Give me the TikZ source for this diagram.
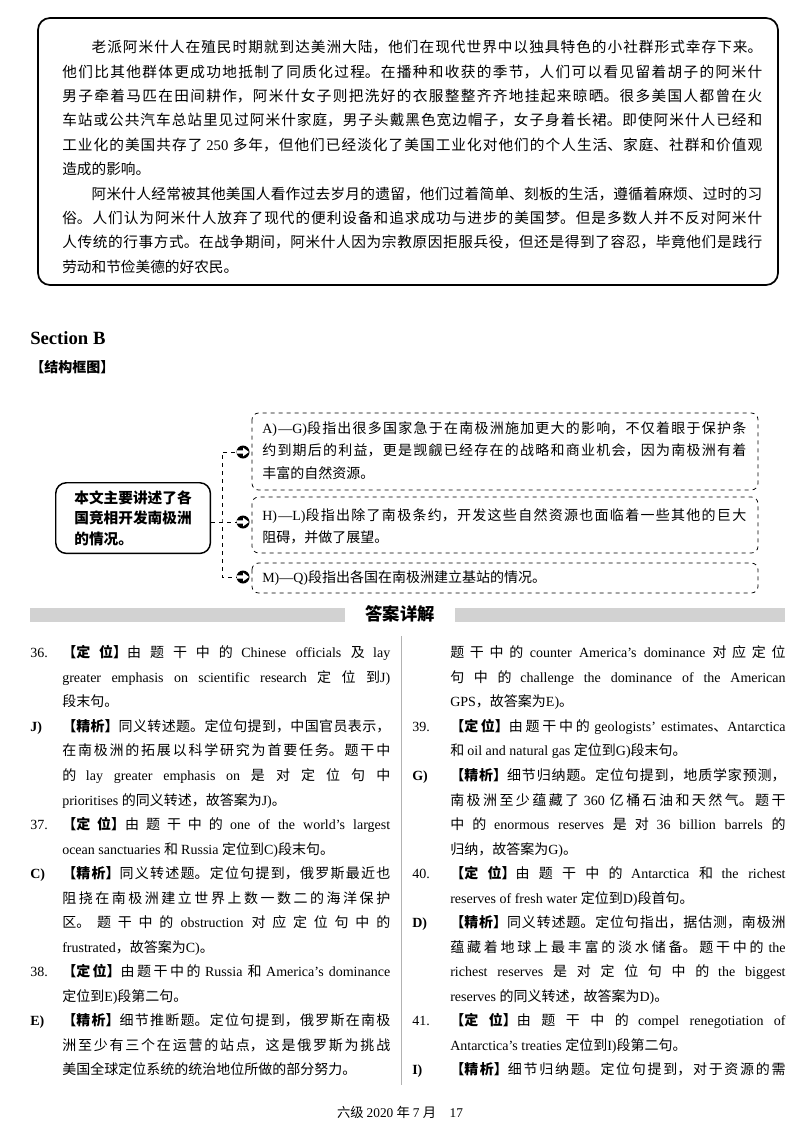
\documentclass[tikz,border=0pt]{standalone}
\usepackage{fontspec}
\setmainfont{Liberation Serif}
\newfontfamily\cjkf{Noto Sans CJK SC}
\newcommand\latf{\rmfamily}
\XeTeXlinebreaklocale "zh"
\XeTeXlinebreakskip=0pt plus 2pt
\newXeTeXintercharclass\cjkclass
\newcount\cc
\cc="4E00 \loop \XeTeXcharclass\cc=\cjkclass \advance\cc 1 \ifnum\cc<"A000 \repeat
\cc="3000 \loop \XeTeXcharclass\cc=\cjkclass \advance\cc 1 \ifnum\cc<"3040 \repeat
\cc="FF00 \loop \XeTeXcharclass\cc=\cjkclass \advance\cc 1 \ifnum\cc<"FFF0 \repeat
\XeTeXinterchartoks 0 \cjkclass = {\cjkf}
\XeTeXinterchartoks 4095 \cjkclass = {\cjkf}
\XeTeXinterchartoks \cjkclass 0 = {\latf}
\XeTeXinterchartoks 4095 0 = {\latf}
\XeTeXinterchartokenstate=1
\tikzset{
 body/.style={anchor=north west,inner sep=0pt,align=justify,font={\fontsize{10.5}{18.4}\selectfont}},
 dbody/.style={anchor=north west,inner sep=0pt,align=justify,font={\fontsize{10.5}{17}\selectfont}},
 dbox/.style={draw,dashed,rounded corners=5pt,line width=0.6pt},
 conn/.style={dashed,line width=0.6pt},
}
\newcommand\dw{\textbf}
\newcommand\lb{\linebreak}
\newcommand\itm[2]{\par\hangindent=#1\hangafter=1\noindent\makebox[#1][l]{#2}\ignorespaces}
\begin{document}
\begin{tikzpicture}[x=0.75pt,y=-0.75pt]
\useasboundingbox (0,0) rectangle (800,1132);
% top box
\draw[line width=1.3pt,rounded corners=9pt] (38,18) rectangle (778,285);
\node[body,text width=525pt,font={\fontsize{11}{18.3}\selectfont}] (p1) at (62,40) {\emergencystretch=2em\parindent=2em\indent 老派阿米什人在殖民时期就到达美洲大陆，他们在现代世界中以独具特色的小社群形式幸存下来。\lb 他们比其他群体更成功地抵制了同质化过程。在播种和收获的季节，人们可以看见留着胡子的阿米什\lb 男子牵着马匹在田间耕作，阿米什女子则把洗好的衣服整整齐齐地挂起来晾晒。很多美国人都曾在火\lb 车站或公共汽车总站里见过阿米什家庭，男子头戴黑色宽边帽子，女子身着长裙。即使阿米什人已经和\lb 工业化的美国共存了 250 多年，但他们已经淡化了美国工业化对他们的个人生活、家庭、社群和价值观\lb 造成的影响。\par
\indent 阿米什人经常被其他美国人看作过去岁月的遗留，他们过着简单、刻板的生活，遵循着麻烦、过时的习\lb 俗。人们认为阿米什人放弃了现代的便利设备和追求成功与进步的美国梦。但是多数人并不反对阿米什\lb 人传统的行事方式。在战争期间，阿米什人因为宗教原因拒服兵役，但还是得到了容忍，毕竟他们是践行\lb 劳动和节俭美德的好农民。};
\node[anchor=west,inner sep=0pt,font=\fontsize{14}{16}\selectfont\bfseries] (sb) at (30,338) {Section B};
\node[anchor=west,inner sep=0pt,font=\fontsize{10.5}{12}\selectfont\bfseries] (jg) at (30,367) {【结构框图】};
% diagram
\node[draw,line width=1.1pt,rounded corners=8pt,minimum width=116pt,minimum height=53pt,anchor=north west,align=left,font=\fontsize{11}{15.5}\selectfont\bfseries,inner sep=0pt] (main) at (55,482) {本文主要讲述了各\\国竞相开发南极洲\\的情况。};
\draw[dbox] (252,413) rectangle (758,490);
\draw[dbox] (252,497) rectangle (758,553);
\draw[dbox] (252,563) rectangle (758,593);
\node[dbody,text width=363pt] (ta) at (262,421) {A)—G)段指出很多国家急于在南极洲施加更大的影响，不仅着眼于保护条\lb 约到期后的利益，更是觊觎已经存在的战略和商业机会，因为南极洲有着\lb 丰富的自然资源。};
\node[dbody,text width=363pt] (th) at (262,508) {H)—L)段指出除了南极条约，开发这些自然资源也面临着一些其他的巨大\lb 阻碍，并做了展望。};
\node[dbody,anchor=west] (tm) at (262,578) {M)—Q)段指出各国在南极洲建立基站的情况。};
\coordinate (ca) at (243,452);
\coordinate (ch) at (243,522);
\coordinate (cm) at (243,577);
\coordinate (jn) at (222,522);
\draw[conn] (main.east|-jn) -- (ch);
\draw[conn] (ca) -| (jn) |- (cm);
\foreach \c in {ca,ch,cm}{
 \fill (\c) circle (6.5);
 \fill[white] ([xshift=-4.5pt,yshift=1.3pt]\c) -- ([xshift=0pt,yshift=1.3pt]\c) -- ([xshift=0pt,yshift=3.3pt]\c) -- ([xshift=4.5pt,yshift=0pt]\c) -- ([xshift=0pt,yshift=-3.3pt]\c) -- ([xshift=0pt,yshift=-1.3pt]\c) -- ([xshift=-4.5pt,yshift=-1.3pt]\c) -- cycle;
}
% answer header
\fill[gray!35] (30,608) rectangle (345,622);
\fill[gray!35] (455,608) rectangle (785,622);
\node[inner sep=0pt,font=\fontsize{13}{15}\selectfont\bfseries] (hd) at (400,614) {答案详解};
\draw[gray!60,line width=0.5pt] (401,636) -- (401,1085);
% left column
\node[body,text width=270pt] (left) at (30,633) {\emergencystretch=2em
\itm{24pt}{36.}\dw{【定位】}由题干中的 Chinese officials 及 lay\lb greater emphasis on scientific research 定位到J)\lb 段末句。
\itm{24pt}{\dw{J)}}\dw{【精析】}同义转述题。定位句提到，中国官员表示，\lb 在南极洲的拓展以科学研究为首要任务。题干中\lb 的 lay greater emphasis on 是对定位句中\lb prioritises 的同义转述，故答案为J)。
\itm{24pt}{37.}\dw{【定位】}由题干中的 one of the world’s largest\lb ocean sanctuaries 和 Russia 定位到C)段末句。
\itm{24pt}{\dw{C)}}\dw{【精析】}同义转述题。定位句提到，俄罗斯最近也\lb 阻挠在南极洲建立世界上数一数二的海洋保护\lb 区。题干中的 obstruction 对应定位句中的\lb frustrated，故答案为C)。
\itm{24pt}{38.}\dw{【定位】}由题干中的 Russia 和 America’s dominance\lb 定位到E)段第二句。
\itm{24pt}{\dw{E)}}\dw{【精析】}细节推断题。定位句提到，俄罗斯在南极\lb 洲至少有三个在运营的站点，这是俄罗斯为挑战\lb 美国全球定位系统的统治地位所做的部分努力。\par};
% right column
\node[body,text width=280pt] (right) at (412,633) {\emergencystretch=2em
\par\hangindent=28.5pt\hangafter=0\noindent 题干中的 counter America’s dominance 对应定位\lb 句中的 challenge the dominance of the American\lb GPS，故答案为E)。
\itm{28.5pt}{39.}\dw{【定位】}由题干中的 geologists’ estimates、Antarctica\lb 和 oil and natural gas 定位到G)段末句。
\itm{28.5pt}{\dw{G)}}\dw{【精析】}细节归纳题。定位句提到，地质学家预测，\lb 南极洲至少蕴藏了 360 亿桶石油和天然气。题干\lb 中的 enormous reserves 是对 36 billion barrels 的\lb 归纳，故答案为G)。
\itm{28.5pt}{40.}\dw{【定位】}由题干中的 Antarctica 和 the richest\lb reserves of fresh water 定位到D)段首句。
\itm{28.5pt}{\dw{D)}}\dw{【精析】}同义转述题。定位句指出，据估测，南极洲\lb 蕴藏着地球上最丰富的淡水储备。题干中的 the\lb richest reserves 是对定位句中的 the biggest\lb reserves 的同义转述，故答案为D)。
\itm{28.5pt}{41.}\dw{【定位】}由题干中的 compel renegotiation of\lb Antarctica’s treaties 定位到I)段第二句。
\itm{28.5pt}{\dw{I)}}\dw{【精析】}细节归纳题。定位句提到，对于资源的需{\parfillskip=0pt\par}};
\node[inner sep=0pt,font=\fontsize{10}{12}\selectfont] (ft) at (400,1112) {六级 2020 年 7 月\quad 17};
\end{tikzpicture}
\end{document}
